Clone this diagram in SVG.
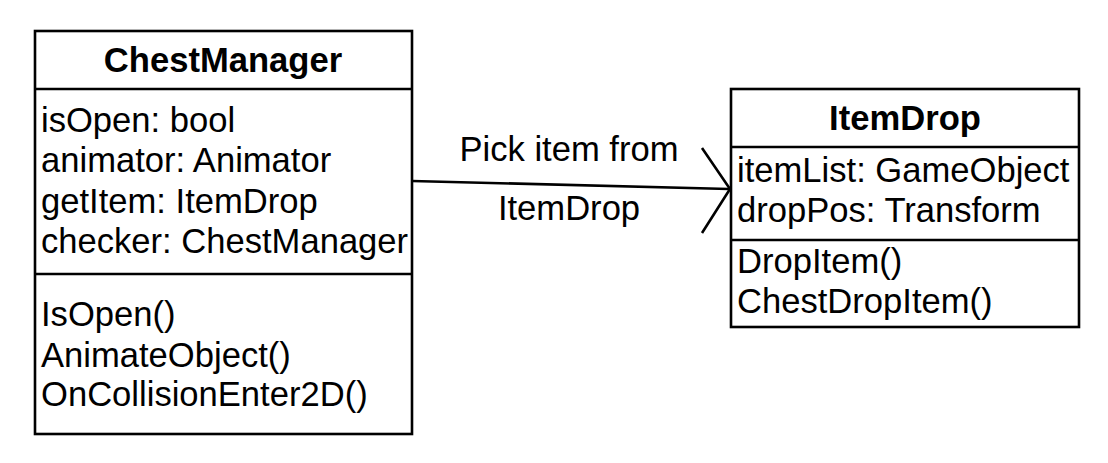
<svg xmlns="http://www.w3.org/2000/svg" width="1108" height="463" viewBox="0 0 1108 463">
<style>
.box{fill:#fff;stroke:#000;stroke-width:2.6}
.div{stroke:#000;stroke-width:2.6}
text{font-family:"Liberation Sans",Arial,sans-serif;font-size:34.6px;fill:#000}
.title{font-weight:bold;text-anchor:middle}
.lbl{text-anchor:middle}
.conn{fill:none;stroke:#000;stroke-width:2.6}
</style>
<rect width="1108" height="463" fill="#fff"/>
<g id="connectors">
<line class="conn" x1="412" y1="181" x2="729" y2="189"/>
<polyline class="conn" points="702,148 730,189 702,233"/>
<text class="lbl" x="569" y="161">Pick item from</text>
<text class="lbl" x="569" y="220">ItemDrop</text>
</g>
<g id="ChestManager">
<rect class="box" x="35" y="31" width="377" height="403"/>
<line class="div" x1="35" y1="89" x2="412" y2="89"/>
<line class="div" x1="35" y1="274" x2="412" y2="274"/>
<text class="title" x="223" y="72">ChestManager</text>
<text x="41" y="132">isOpen: bool</text>
<text x="41" y="172">animator: Animator</text>
<text x="41" y="213">getItem: ItemDrop</text>
<text x="41" y="253">checker: ChestManager</text>
<text x="41" y="326">IsOpen()</text>
<text x="41" y="367">AnimateObject()</text>
<text x="41" y="406">OnCollisionEnter2D()</text>
</g>
<g id="ItemDrop">
<rect class="box" x="731" y="89" width="348" height="238"/>
<line class="div" x1="731" y1="147" x2="1079" y2="147"/>
<line class="div" x1="731" y1="240" x2="1079" y2="240"/>
<text class="title" x="905" y="130">ItemDrop</text>
<text x="737" y="182">itemList: GameObject</text>
<text x="737" y="222">dropPos: Transform</text>
<text x="737" y="273">DropItem()</text>
<text x="737" y="313">ChestDropItem()</text>
</g>
</svg>
